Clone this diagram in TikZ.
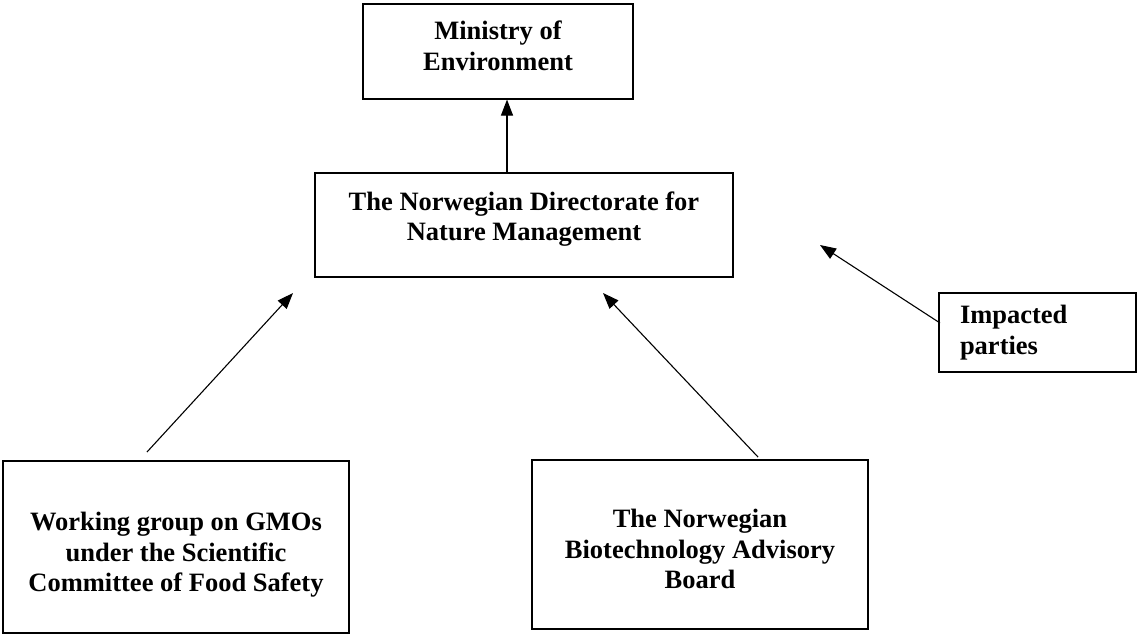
\documentclass[tikz,border=0pt]{standalone}
\usepackage{fontspec}
\setmainfont{Liberation Serif}
\usetikzlibrary{arrows.meta}

\begin{document}
\begin{tikzpicture}[
  x=1pt,
  y=-1pt,
  box/.style={draw, line width=1.1pt, align=center, inner sep=0pt,
    font=\bfseries\fontsize{26.5}{30.5}\selectfont},
  leftbox/.style={box, align=left, text width=155pt, inner xsep=21pt},
  link/.style={line width=1.1pt, -{Triangle[length=16pt, width=12pt]}}
]
\useasboundingbox (0,0) rectangle (1137,635);

\node[box, minimum width=270pt, minimum height=95pt, text depth=12pt] (ministry) at (498,51.5) {Ministry of\\Environment};
\node[box, minimum width=418pt, minimum height=104pt, text depth=18pt] (directorate) at (524,225) {The Norwegian Directorate for\\Nature Management};
\node[leftbox, minimum width=197pt, minimum height=79pt] (impacted) at (1037.5,332.5) {Impacted\\parties};
\node[box, minimum width=346pt, minimum height=172pt, text height=95pt] (workgroup) at (176,547) {Working group on GMOs\\under the Scientific\\Committee of Food Safety};
\node[box, minimum width=336pt, minimum height=169pt, text height=89pt] (advisory) at (700,544.5) {The Norwegian\\Biotechnology Advisory\\Board};

% free arrow ends
\coordinate (wg-out) at (147,452);
\coordinate (wg-in) at (293,293);
\coordinate (ab-out) at (758,457);
\coordinate (ab-in) at (603,293);
\coordinate (ip-out) at (940,323);
\coordinate (ip-in) at (820,245);

\draw[link] (directorate.north -| 507,0) -- (ministry.south -| 507,0);
\draw[link] (wg-out) -- (wg-in);
\draw[link] (ab-out) -- (ab-in);
\draw[link] (ip-out) -- (ip-in);
\end{tikzpicture}
\end{document}
